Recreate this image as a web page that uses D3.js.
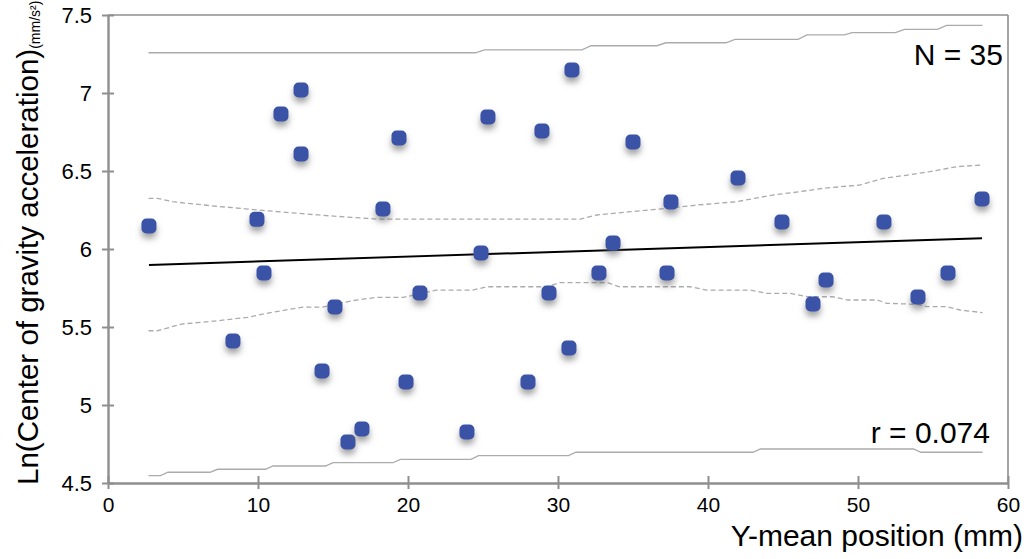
<!DOCTYPE html>
<html>
<head>
<meta charset="utf-8">
<script src="https://cdn.jsdelivr.net/npm/d3@7"></script>
<style>
  body { margin: 0; background: #fff; }
  text { font-family: "Liberation Sans", Arial, Helvetica, sans-serif; fill: #000; }
</style>
</head>
<body>
<div id="chart"></div>
<script>
// scatter values
var xVals = [2.73, 8.33, 9.93, 10.4, 11.53, 12.87, 12.87, 14.27, 15.13, 16.0, 16.93, 18.33,
             19.4, 19.87, 20.8, 23.93, 24.87, 25.33, 28.0, 28.93, 29.4, 30.73, 30.93, 32.73,
             33.67, 35.0, 37.27, 37.53, 42.0, 44.93, 47.0, 47.87, 51.73, 54.0, 56.0, 58.27];
var yVals = [6.147, 5.41, 6.19, 5.846, 6.865, 7.019, 6.609, 5.218, 5.628, 4.763, 4.846, 6.256,
             6.712, 5.147, 5.718, 4.827, 5.974, 6.846, 5.147, 6.756, 5.718, 5.365, 7.147, 5.846,
             6.038, 6.686, 5.846, 6.301, 6.455, 6.173, 5.647, 5.801, 6.173, 5.692, 5.846, 6.321];

// regression
var regIntercept = 5.889;
var regSlope = 0.0031;

// prediction band (solid)
var upperPred = [[2.7, 7.258], [24.5, 7.258], [25.1, 7.276], [31.6, 7.276], [32.2, 7.303], [36.6, 7.303],
                 [37.2, 7.322], [41.2, 7.322], [41.8, 7.344], [46.0, 7.344], [46.6, 7.372], [49.1, 7.372],
                 [49.6, 7.387], [52.5, 7.387], [53.1, 7.408], [55.3, 7.408], [55.9, 7.434], [58.3, 7.434]];
var lowerPred = [[2.7, 4.547], [3.5, 4.547], [4.0, 4.569], [6.8, 4.569], [7.3, 4.588], [10.5, 4.588],
                 [11.0, 4.609], [14.5, 4.609], [15.0, 4.630], [19.0, 4.630], [19.5, 4.652], [24.2, 4.652],
                 [24.7, 4.675], [30.7, 4.675], [31.2, 4.697], [43.0, 4.697], [43.5, 4.718], [53.7, 4.718],
                 [54.2, 4.697], [58.3, 4.697]];

// confidence band (dashed)
var upperConf = [[2.7, 6.325], [3.3, 6.325], [4.3, 6.303], [6.8, 6.278], [9.3, 6.256], [11.6, 6.237],
                 [14.7, 6.213], [17.9, 6.192], [31.5, 6.192], [32.6, 6.218], [34.8, 6.239], [37.3, 6.261],
                 [39.3, 6.282], [41.9, 6.303], [44.3, 6.346], [46.1, 6.367], [47.7, 6.389], [50.1, 6.410],
                 [51.7, 6.453], [53.3, 6.474], [54.8, 6.496], [56.6, 6.528], [58.3, 6.538]];
var lowerConf = [[2.7, 5.476], [3.3, 5.476], [4.9, 5.519], [7.3, 5.540], [9.3, 5.562], [10.6, 5.588],
                 [13.0, 5.628], [14.3, 5.628], [16.3, 5.669], [17.9, 5.690], [19.7, 5.690], [21.9, 5.737],
                 [24.3, 5.737], [25.3, 5.758], [29.3, 5.758], [30.1, 5.784], [33.3, 5.784], [34.1, 5.758],
                 [38.8, 5.758], [39.9, 5.737], [42.8, 5.737], [43.9, 5.716], [45.5, 5.716], [46.6, 5.694],
                 [48.3, 5.694], [49.3, 5.673], [51.3, 5.673], [51.9, 5.652], [54.0, 5.645], [54.6, 5.630],
                 [55.9, 5.630], [56.8, 5.609], [58.3, 5.592]];

var xTicks = [0, 10, 20, 30, 40, 50, 60];
var yTicks = [4.5, 5, 5.5, 6, 6.5, 7, 7.5];
var nLabel = "N = 35";
var rLabel = "r = 0.074";

var width = 1028, height = 559;
var margin = {top: 15, right: 20, bottom: 76, left: 108};

var svg = d3.select("#chart").append("svg")
    .attr("width", width)
    .attr("height", height);

var defs = svg.append("defs");
var shadow = defs.append("filter")
    .attr("id", "shadow")
    .attr("x", "-100%").attr("y", "-100%")
    .attr("width", "300%").attr("height", "300%");
shadow.append("feDropShadow")
    .attr("dx", 0)
    .attr("dy", 5)
    .attr("stdDeviation", 3)
    .attr("flood-color", "#666")
    .attr("flood-opacity", 0.6);

var x = d3.scaleLinear().domain([0, 60]).range([margin.left, width - margin.right]);
var y = d3.scaleLinear().domain([4.5, 7.5]).range([height - margin.bottom, margin.top]);

var axisColor = "#8f8f8f";

// frame (top and right)
svg.append("line")
    .attr("x1", x(0)).attr("x2", x(60))
    .attr("y1", y(7.5)).attr("y2", y(7.5))
    .attr("stroke", axisColor).attr("stroke-width", 1.6);
svg.append("line")
    .attr("x1", x(60)).attr("x2", x(60))
    .attr("y1", y(7.5)).attr("y2", y(4.5))
    .attr("stroke", axisColor).attr("stroke-width", 1.6);

// bottom axis
var xAxis = svg.append("g")
    .attr("transform", "translate(0," + y(4.5) + ")")
    .call(d3.axisBottom(x).tickValues(xTicks).tickSize(6).tickSizeOuter(0).tickPadding(8));
xAxis.selectAll("line").attr("y1", -7);
xAxis.selectAll("text").attr("font-size", "21px").attr("dy", "0.71em");

// left axis
var yAxis = svg.append("g")
    .attr("transform", "translate(" + x(0) + ",0)")
    .call(d3.axisLeft(y).tickValues(yTicks).tickSize(6).tickSizeOuter(0).tickPadding(10)
        .tickFormat(d3.format("")));
yAxis.selectAll("line").attr("x1", 6);
yAxis.selectAll("text").attr("font-size", "22px");

[xAxis, yAxis].forEach(function (g) {
    g.select(".domain").attr("stroke", axisColor).attr("stroke-width", 2.4);
    g.selectAll(".tick line").attr("stroke", axisColor).attr("stroke-width", 2);
    g.selectAll("text").attr("fill", "#000").style("font-family", "'Liberation Sans', Arial, sans-serif");
});

var line = d3.line()
    .x(function (d) { return x(d[0]); })
    .y(function (d) { return y(d[1]); });

// prediction band
[upperPred, lowerPred].forEach(function (band) {
    svg.append("path")
        .datum(band)
        .attr("d", line)
        .attr("fill", "none")
        .attr("stroke", "#ababab")
        .attr("stroke-width", 1.3);
});

// confidence band
[upperConf, lowerConf].forEach(function (band) {
    svg.append("path")
        .datum(band)
        .attr("d", line)
        .attr("fill", "none")
        .attr("stroke", "#ababab")
        .attr("stroke-width", 1.3)
        .attr("stroke-dasharray", "5,3");
});

// regression line
var xExt = d3.extent(xVals);
svg.append("path")
    .datum([xExt[0], xExt[1]].map(function (v) { return [v, regIntercept + regSlope * v]; }))
    .attr("d", line)
    .attr("fill", "none")
    .attr("stroke", "#000")
    .attr("stroke-width", 2);

// points
var pts = xVals.map(function (v, i) { return {x: v, y: yVals[i]}; });
var ms = 15;
svg.append("g")
    .selectAll("rect")
    .data(pts)
    .enter()
    .append("rect")
    .attr("x", function (d) { return x(d.x) - ms / 2; })
    .attr("y", function (d) { return y(d.y) - ms / 2; })
    .attr("width", ms)
    .attr("height", ms)
    .attr("rx", 5)
    .attr("fill", "#3a52a6")
    .attr("filter", "url(#shadow)");

// annotations
svg.append("text")
    .attr("x", 1003)
    .attr("y", 65)
    .attr("text-anchor", "end")
    .attr("font-size", "30px")
    .text(nLabel);
svg.append("text")
    .attr("x", 990)
    .attr("y", 443)
    .attr("text-anchor", "end")
    .attr("font-size", "30px")
    .text(rLabel);

// axis titles
svg.append("text")
    .attr("x", 1023)
    .attr("y", 546)
    .attr("text-anchor", "end")
    .attr("font-size", "30px")
    .text("Y-mean position (mm)");

var yTitle = svg.append("text")
    .attr("transform", "translate(38,485) rotate(-90)")
    .attr("text-anchor", "start")
    .attr("font-size", "29.5px");
yTitle.append("tspan").text("Ln(Center of gravity acceleration)");
yTitle.append("tspan")
    .attr("font-size", "14px")
    .attr("dy", 2)
    .text("(mm/s\u00b2)");
</script>
</body>
</html>
